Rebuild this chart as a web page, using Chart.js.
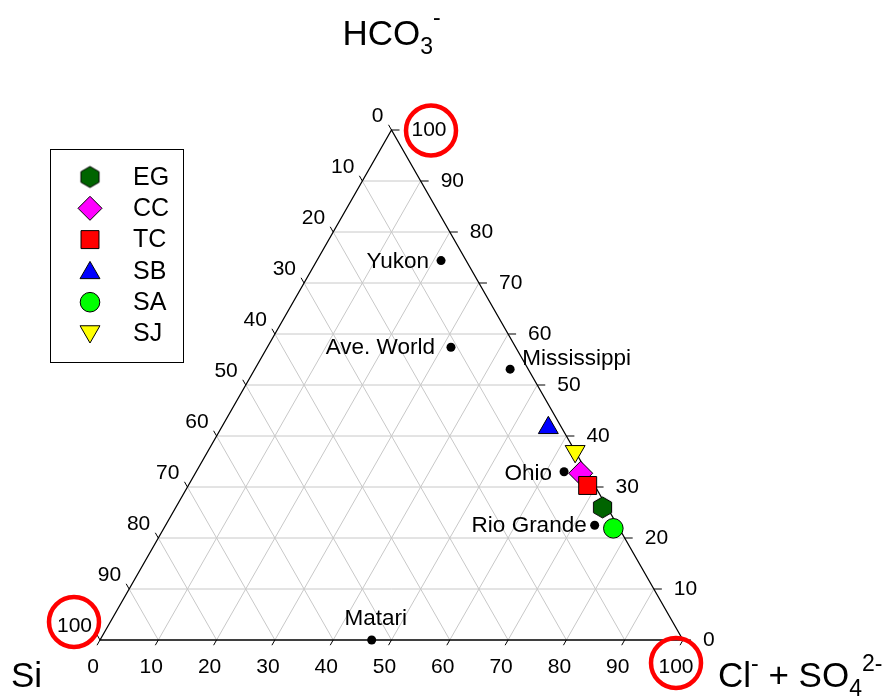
<!DOCTYPE html>
<html>
<head>
<meta charset="utf-8">
<script src="https://cdn.jsdelivr.net/npm/chart.js@4/dist/chart.umd.min.js"></script>
<style>
  html, body { margin: 0; padding: 0; background: #ffffff; }
  canvas { display: block; }
</style>
</head>
<body>
<canvas id="ternary" width="887" height="698"></canvas>
<script>
// Percent composition of each water: HCO3-, Cl- + SO4 2-, Si
const riverNames = ['Yukon', 'Ave. World', 'Mississippi', 'Ohio', 'Rio Grande', 'Matari'];
const riverHCO3  = [74.4, 57.4, 53.1, 33.0, 22.5, 0.0];
const riverClSO4 = [21.3, 31.5, 43.8, 63.1, 73.6, 46.6];
const riverSi    = [4.3, 11.1, 3.1, 3.9, 3.9, 53.4];

const sampleNames = ['EG', 'CC', 'TC', 'SB', 'SA', 'SJ'];
const sampleHCO3  = [26.0, 32.7, 30.3, 41.6, 21.9, 37.0];
const sampleClSO4 = [73.2, 66.1, 68.5, 56.1, 77.1, 63.0];
const sampleSi    = [0.8, 1.2, 1.2, 2.3, 1.0, 0.0];

// Axis tick values along each side of the triangle
const tickValues = [0, 10, 20, 30, 40, 50, 60, 70, 80, 90, 100];
const gridValues = [10, 20, 30, 40, 50, 60, 70, 80, 90];

const FONT = "'Liberation Sans', Arial, Helvetica, sans-serif";

// Ternary -> cartesian: x runs along the base (Cl- + SO4 2-), y is the HCO3- height
function toXY(hco3, cl, si) {
  const s = hco3 + cl + si;
  const h = 100 * hco3 / s, c = 100 * cl / s;
  return { x: c + h / 2, y: h };
}

function hexagonImage(r, fill) {
  const size = Math.ceil(2 * r + 4);
  const cv = document.createElement('canvas');
  cv.width = size; cv.height = size;
  const g = cv.getContext('2d');
  g.beginPath();
  for (let i = 0; i < 6; i++) {
    const a = Math.PI / 2 + i * Math.PI / 3;
    g.lineTo(size / 2 + r * Math.cos(a), size / 2 + r * Math.sin(a));
  }
  g.closePath();
  g.fillStyle = fill; g.fill();
  g.strokeStyle = '#000000'; g.lineWidth = 1; g.stroke();
  return cv;
}

const sampleStyles = {
  EG: { pointStyle: hexagonImage(10.5, '#006400'), color: '#006400', radius: 10.5, rotation: 0, order: 3 },
  CC: { pointStyle: 'rectRot', color: '#ff00ff', radius: 12, rotation: 0, order: 2 },
  TC: { pointStyle: 'rect', color: '#ff0000', radius: 12.7, rotation: 0, order: 1 },
  SB: { pointStyle: 'triangle', color: '#0000ff', radius: 11.5, rotation: 0, order: 4 },
  SA: { pointStyle: 'circle', color: '#00ff00', radius: 9.8, rotation: 0, order: 5 },
  SJ: { pointStyle: 'triangle', color: '#ffff00', radius: 11.5, rotation: 180, order: 6 }
};

// River label placement relative to its dot
const riverLabelPlacement = {
  'Yukon':       { align: 'right', dx: -12, dy: 1 },
  'Ave. World':  { align: 'right', dx: -16, dy: 1 },
  'Mississippi': { align: 'left',  dx: 12,  dy: -10 },
  'Ohio':        { align: 'right', dx: -12, dy: 2 },
  'Rio Grande':  { align: 'right', dx: -8,  dy: 1 },
  'Matari':      { align: 'center', dx: 4,  dy: -21 }
};

const datasets = [];
sampleNames.forEach((name, i) => {
  const st = sampleStyles[name];
  datasets.push({
    label: name,
    data: [toXY(sampleHCO3[i], sampleClSO4[i], sampleSi[i])],
    pointStyle: st.pointStyle,
    pointRadius: st.radius,
    pointRotation: st.rotation,
    backgroundColor: st.color,
    borderColor: '#000000',
    borderWidth: 1,
    order: st.order,
    clip: false
  });
});
datasets.push({
  label: 'rivers',
  data: riverNames.map((n, i) => toXY(riverHCO3[i], riverClSO4[i], riverSi[i])),
  pointStyle: 'circle',
  pointRadius: 4.5,
  backgroundColor: '#000000',
  borderColor: '#000000',
  borderWidth: 0,
  order: 10,
  clip: false
});

function richText(ctx, parts, x, y, align) {
  ctx.save();
  ctx.textBaseline = 'alphabetic';
  ctx.textAlign = 'left';
  let total = 0;
  parts.forEach(p => { ctx.font = p.size + 'px ' + FONT; total += ctx.measureText(p.t).width; });
  let cx = align === 'center' ? x - total / 2 : x;
  parts.forEach(p => {
    ctx.font = p.size + 'px ' + FONT;
    ctx.fillText(p.t, cx, y + (p.dy || 0));
    cx += ctx.measureText(p.t).width;
  });
  ctx.restore();
}

const ternaryFrame = {
  id: 'ternaryFrame',
  beforeDatasetsDraw(chart) {
    const { ctx, scales: { x, y } } = chart;
    const P = (cl, h) => [x.getPixelForValue(cl + h / 2), y.getPixelForValue(h)];
    const line = (a, b) => { ctx.beginPath(); ctx.moveTo(a[0], a[1]); ctx.lineTo(b[0], b[1]); ctx.stroke(); };

    ctx.save();
    // grid lines for the three components
    ctx.strokeStyle = '#c8c8c8';
    ctx.lineWidth = 1;
    gridValues.forEach(v => {
      line(P(0, v), P(100 - v, v));          // constant HCO3-
      line(P(v, 0), P(v, 100 - v));          // constant Cl- + SO4 2-
      line(P(100 - v, 0), P(0, 100 - v));    // constant Si
    });

    // triangle outline
    ctx.strokeStyle = '#000000';
    ctx.lineWidth = 1.3;
    ctx.beginPath();
    const A = P(0, 0), B = P(100, 0), C = P(0, 100);
    ctx.moveTo(A[0], A[1]); ctx.lineTo(B[0], B[1]); ctx.lineTo(C[0], C[1]); ctx.closePath();
    ctx.stroke();

    // ticks and labels
    ctx.lineWidth = 1;
    ctx.fillStyle = '#000000';
    ctx.font = '21px ' + FONT;
    ctx.textBaseline = 'middle';
    const ux = -0.496, uy = 0.868, tl = 6;
    tickValues.forEach(v => {
      // base: Cl- + SO4 2-
      const b = P(v, 0);
      line(b, [b[0] + ux * tl, b[1] + uy * tl]);
      ctx.textAlign = 'center';
      ctx.fillText(String(v), b[0] - 7, b[1] + 27);
      // right side: HCO3-
      const r = P(100 - v, v);
      line(r, [r[0] + 8, r[1]]);
      ctx.textAlign = 'left';
      ctx.fillText(String(v), r[0] + 20, r[1]);
      // left side: Si
      const l = P(0, 100 - v);
      line(l, [l[0] + ux * tl, l[1] - uy * tl]);
      ctx.textAlign = 'right';
      ctx.fillText(String(v), l[0] - 8, l[1] - 14);
    });
    ctx.restore();
  },
  afterDatasetsDraw(chart) {
    const { ctx, scales: { x, y } } = chart;
    ctx.save();
    // river labels
    ctx.font = '22.5px ' + FONT;
    ctx.fillStyle = '#000000';
    ctx.textBaseline = 'middle';
    const meta = chart.getDatasetMeta(chart.data.datasets.length - 1);
    riverNames.forEach((name, i) => {
      const el = meta.data[i];
      const pl = riverLabelPlacement[name];
      ctx.textAlign = pl.align;
      ctx.fillText(name, el.x + pl.dx, el.y + pl.dy);
    });

    // highlight circles around the 100 % corner labels
    const P = (cl, h) => [x.getPixelForValue(cl + h / 2), y.getPixelForValue(h)];
    ctx.strokeStyle = '#ff0000';
    ctx.lineWidth = 4.5;
    const top = P(0, 100), left = P(0, 0), right = P(100, 0);
    const rings = [
      [top[0] + 39.5, top[1] + 0.5, 25],
      [left[0] - 26, left[1] - 18, 25],
      [right[0] - 7, right[1] + 23, 25]
    ];
    rings.forEach(([cx, cy, r]) => { ctx.beginPath(); ctx.arc(cx, cy, r, 0, Math.PI * 2); ctx.stroke(); });

    // component titles
    ctx.fillStyle = '#000000';
    richText(ctx, [
      { t: 'HCO', size: 35 },
      { t: '3', size: 23, dy: 9 },
      { t: '-', size: 23, dy: -20 }
    ], top[0], 45, 'center');
    richText(ctx, [{ t: 'Si', size: 35 }], 11, 687, 'left');
    richText(ctx, [
      { t: 'Cl', size: 35 },
      { t: '-', size: 23, dy: -16 },
      { t: ' + SO', size: 35 },
      { t: '4', size: 23, dy: 9 },
      { t: '2-', size: 23, dy: -16 }
    ], 718, 687, 'left');

    // legend
    const lx = 50, ly = 149, lw = 133, lh = 213;
    ctx.fillStyle = '#ffffff';
    ctx.fillRect(lx, ly, lw, lh);
    ctx.strokeStyle = '#000000';
    ctx.lineWidth = 1;
    ctx.strokeRect(lx + 0.5, ly + 0.5, lw, lh);
    ctx.font = '25px ' + FONT;
    ctx.textAlign = 'left';
    ctx.textBaseline = 'middle';
    sampleNames.forEach((name, i) => {
      const st = sampleStyles[name];
      const ry = 177 + i * 31.3;
      ctx.fillStyle = st.color;
      ctx.strokeStyle = '#000000';
      ctx.lineWidth = 1;
      Chart.helpers.drawPoint(ctx, {
        pointStyle: st.pointStyle, radius: st.radius, rotation: st.rotation, borderWidth: 1
      }, 90, ry + (name === 'SB' ? 2 : name === 'SJ' ? -2 : 0));
      ctx.fillStyle = '#000000';
      ctx.fillText(name, 133, ry + 1);
    });
    ctx.restore();
  }
};

new Chart(document.getElementById('ternary'), {
  type: 'scatter',
  data: { datasets },
  options: {
    responsive: false,
    devicePixelRatio: 1,
    animation: false,
    layout: { padding: { left: 100, right: 204, top: 130, bottom: 58 } },
    scales: {
      x: { type: 'linear', min: 0, max: 100, display: false },
      y: { type: 'linear', min: 0, max: 100, display: false }
    },
    plugins: {
      legend: { display: false },
      tooltip: { enabled: false }
    }
  },
  plugins: [ternaryFrame]
});
</script>
</body>
</html>
